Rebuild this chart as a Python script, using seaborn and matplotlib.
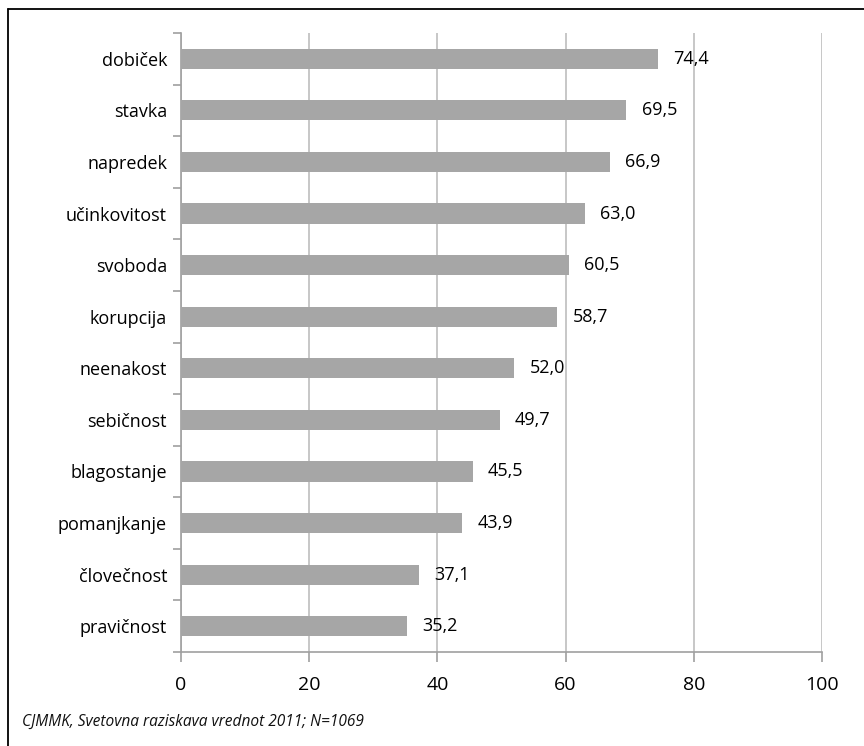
import matplotlib
matplotlib.use("Agg")
import matplotlib.pyplot as plt
import seaborn as sns
import pandas as pd
from matplotlib.lines import Line2D

categories = ["dobiček", "stavka", "napredek", "učinkovitost", "svoboda", "korupcija",
              "neenakost", "sebičnost", "blagostanje", "pomanjkanje", "človečnost", "pravičnost"]
values = [74.4, 69.5, 66.9, 63.0, 60.5, 58.7, 52.0, 49.7, 45.5, 43.9, 37.1, 35.2]
xticks = [0, 20, 40, 60, 80, 100]
footer = "CJMMK, Svetovna raziskava vrednot 2011; N=1069"

sns.set_theme(style="white")
plt.rcParams['font.family'] = ['Open Sans', 'DejaVu Sans']

df = pd.DataFrame({"cat": categories, "val": values})

fig = plt.figure(figsize=(8.64, 7.46), dpi=100)
ax = fig.add_axes([181/864, 1-652/746, (822-181)/864, (652-33)/746])

sns.barplot(data=df, y="cat", x="val", orient="h", color="#A6A6A6", width=0.39,
            saturation=1, linewidth=0, edgecolor="none", ax=ax, zorder=3)
ax.set_xlim(0, 100)
ax.set_ylim(len(categories)-0.5, -0.5)
ax.set_xlabel("")
ax.set_ylabel("")
ax.set_xticks(xticks)
ax.set_xticklabels([str(t) for t in xticks], fontsize=14, color="black")
ax.xaxis.grid(True, color="#BEBEBE", linewidth=1.2, zorder=0)
ax.set_axisbelow(True)

# y ticks: labels at centers, tick marks at boundaries
ax.set_yticks(range(len(categories)))
ax.set_yticklabels(categories, fontsize=13, color="black")
ax.tick_params(axis='y', which='major', left=False, length=0, pad=10)
ax.set_yticks([i - 0.5 for i in range(len(categories)+1)], minor=True)
ax.tick_params(axis='y', which='minor', left=True, length=6, color="#A0A0A0", width=1.2)
ax.tick_params(axis='x', which='major', bottom=True, length=7, color="#A0A0A0", width=1.2, pad=10)

for s in ["top", "right"]:
    ax.spines[s].set_visible(False)
for s in ["left", "bottom"]:
    ax.spines[s].set_color("#A0A0A0")
    ax.spines[s].set_linewidth(1.2)

labels = [f"{v:.1f}".replace(".", ",") for v in values]
ax.bar_label(ax.containers[0], labels=labels, padding=11, fontsize=13, color="black")

fig.text(22/864, 1-722/746, footer, fontsize=11.2, style="italic", va="center", ha="left",
         color="#111111")

# frame lines (top and left)
fig.add_artist(Line2D([8/864, 1], [1-9/746, 1-9/746], color="black", linewidth=1.3,
                      transform=fig.transFigure))
fig.add_artist(Line2D([8/864, 8/864], [1-9/746, 0], color="black", linewidth=1.3,
                      transform=fig.transFigure))

fig.savefig("out.png", dpi=100)
